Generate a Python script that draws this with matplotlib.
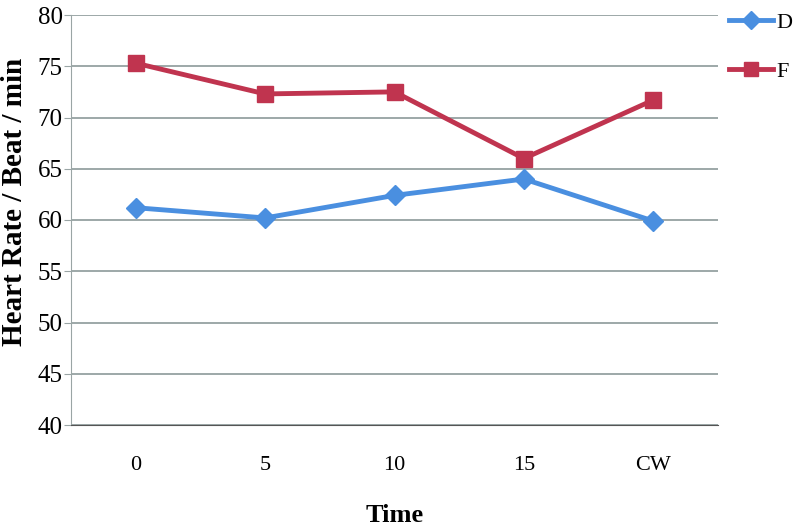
import matplotlib
matplotlib.use("Agg")
import matplotlib.pyplot as plt
from matplotlib.lines import Line2D

categories = ["0", "5", "10", "15", "CW"]
series_D = [61.2, 60.2, 62.4, 64.0, 59.9]
series_F = [75.3, 72.3, 72.5, 66.0, 71.7]
y_ticks = [40, 45, 50, 55, 60, 65, 70, 75, 80]

plt.rcParams['font.family'] = ['Liberation Serif', 'DejaVu Serif']

W, H = 794, 528
fig = plt.figure(figsize=(W/100, H/100), dpi=100)
ax = fig.add_axes([71/W, 1-425/H, (718-71)/W, (425-15)/H])

x = list(range(len(categories)))
blue = "#4a8fe0"
red = "#c0344f"
ax.plot(x, series_D, color=blue, lw=3.5, marker="D", ms=10, mec=blue, mfc=blue, zorder=3, label="D")
ax.plot(x, series_F, color=red, lw=3.5, marker="s", ms=12, mec=red, mfc=red, zorder=3, label="F")

ax.set_xlim(-0.5, 4.5)
ax.set_ylim(40, 80)
ax.set_yticks(y_ticks)
ax.set_xticks(x)
ax.set_xticklabels(categories)
ax.yaxis.grid(True, color="#8c9a9a", lw=1.2)
ax.set_axisbelow(True)
for s in ["top", "right"]:
    ax.spines[s].set_visible(False)
ax.spines["left"].set_color("#9aa5a5")
ax.spines["bottom"].set_color("#555555")
ax.tick_params(axis="y", labelsize=18, length=5, color="#9aa5a5", pad=1)
ax.tick_params(axis="x", labelsize=16, length=0, pad=22)

fig.text(15/W, 1-202/H, "Heart Rate / Beat / min", rotation=90, fontsize=21,
         fontweight="bold", ha="center", va="center")
fig.text((71+718)/2/W, 1-515/H, "Time", fontsize=19, fontweight="bold",
         ha="center", va="center")

handles = [Line2D([], [], color=blue, lw=3.5, marker="D", ms=9),
           Line2D([], [], color=red, lw=3.5, marker="s", ms=10)]
fig.legend(handles, ["D", "F"], loc="upper left", bbox_to_anchor=(729/W, 1-12/H),
           frameon=False, fontsize=16, handlelength=2.0, handletextpad=0.15,
           labelspacing=1.3, borderpad=0, borderaxespad=0)

fig.savefig("out.png", dpi=100)
